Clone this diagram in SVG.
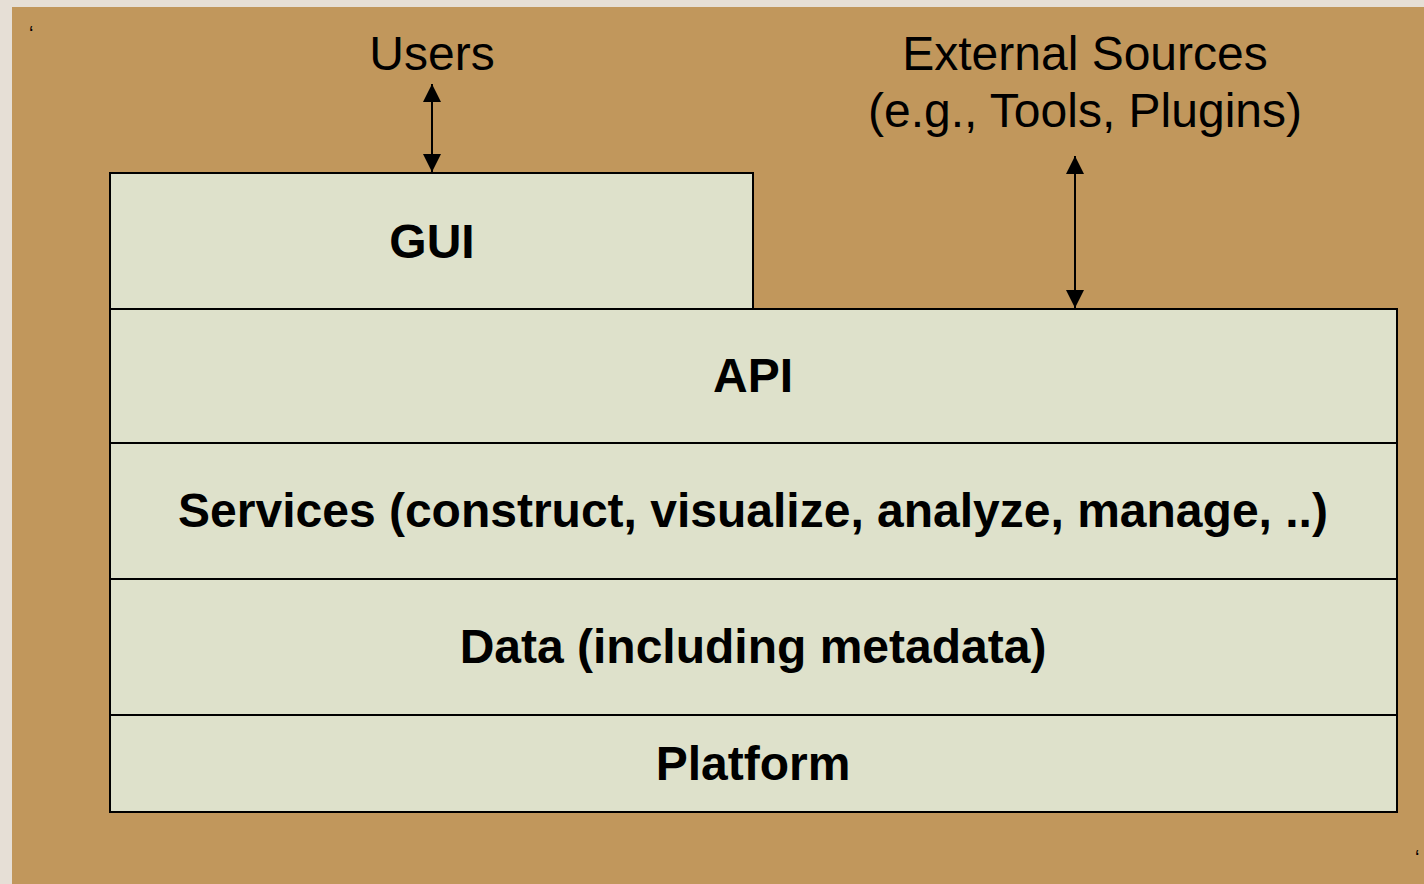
<svg xmlns="http://www.w3.org/2000/svg" width="1424" height="884" viewBox="0 0 1424 884">
<defs>
<style>
.box{fill:#dee1cb;stroke:#000;stroke-width:2}
.lbl{font-family:"Liberation Sans",Arial,sans-serif;font-size:48px;font-weight:bold;fill:#000;text-anchor:middle}
.ext{font-family:"Liberation Sans",Arial,sans-serif;font-size:48px;fill:#000;text-anchor:middle}
.tick{font-family:"Liberation Sans",Arial,sans-serif;font-size:20px;fill:#000}
.conn{stroke:#000;stroke-width:2;fill:none}
</style>
<marker id="ah" viewBox="0 0 10 10" refX="10" refY="5" markerWidth="18" markerHeight="18" markerUnits="userSpaceOnUse" orient="auto-start-reverse">
<path d="M0,0 L10,5 L0,10 z" fill="#000"/>
</marker>
</defs>
<rect x="0" y="0" width="1424" height="884" fill="#e6dfd6"/>
<rect x="12" y="7" width="1412" height="877" fill="#c1975c"/>
<text class="tick" x="29" y="40">‘</text>
<text class="tick" x="1415" y="864">‘</text>
<text class="ext" x="432" y="70">Users</text>
<text class="ext" x="1085" y="70">External Sources</text>
<text class="ext" x="1085" y="127">(e.g., Tools, Plugins)</text>
<g id="gui"><rect class="box" x="110" y="173" width="643" height="138"/><text class="lbl" x="432" y="258">GUI</text></g>
<g id="api"><rect class="box" x="110" y="309" width="1287" height="134"/><text class="lbl" x="753" y="392">API</text></g>
<g id="services"><rect class="box" x="110" y="443" width="1287" height="136"/><text class="lbl" x="753" y="527">Services (construct, visualize, analyze, manage, ..)</text></g>
<g id="data"><rect class="box" x="110" y="579" width="1287" height="136"/><text class="lbl" x="753" y="663">Data (including metadata)</text></g>
<g id="platform"><rect class="box" x="110" y="715" width="1287" height="97"/><text class="lbl" x="753" y="780">Platform</text></g>
<g id="connectors">
<line class="conn" x1="432" y1="84" x2="432" y2="172" marker-start="url(#ah)" marker-end="url(#ah)"/>
<line class="conn" x1="1075" y1="156" x2="1075" y2="308" marker-start="url(#ah)" marker-end="url(#ah)"/>
</g>
</svg>
